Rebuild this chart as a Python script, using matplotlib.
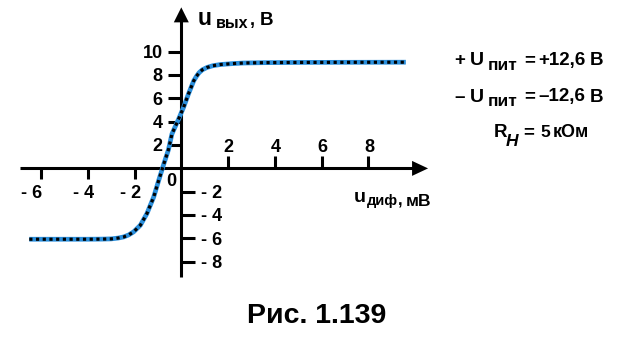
import matplotlib
matplotlib.use('Agg')
import matplotlib.pyplot as plt

# ---- data ----
u_dif = [-6.5, -5.0, -4.0, -3.4, -3.0, -2.7, -2.46, -2.25, -2.04, -1.75, -1.47,
         -1.18, -0.97, -0.75, -0.55, -0.4, -0.11, 0.1, 0.31, 0.53, 0.65, 0.76,
         0.9, 1.1, 1.35, 1.67, 2.2, 2.66, 3.5, 5.0, 7.0, 9.6]
u_out = [-6.07, -6.07, -6.07, -6.06, -6.04, -5.97, -5.87, -5.7, -5.44, -4.87, -3.87,
         -2.45, -1.05, 0.37, 1.6, 2.95, 4.25, 5.25, 6.4, 7.5, 7.9, 8.2,
         8.45, 8.65, 8.8, 8.9, 8.98, 9.03, 9.06, 9.08, 9.09, 9.1]
x_ticks = [-6, -4, -2, 2, 4, 6, 8]
x_tick_labels = ['- 6', '- 4', '- 2', '2', '4', '6', '8']
y_ticks = [-8, -6, -4, -2, 2, 4, 6, 8, 10]
y_tick_labels = ['- 8', '- 6', '- 4', '- 2', '2', '4', '6', '8', '10']

# ---- layout ----
W, H = 622, 337
X0, Y0 = 181.3, 168.4      # pixel position of origin
SX, SY = 23.39, 11.67      # pixels per unit
FONT = 'Liberation Sans'
BLUE = '#2a8fdc'
TICK_FS = 13
neg_x_label_shift = {-6: 0.5, -4: 4.3, -2: 4.8}   # points, right edge past tick

fig = plt.figure(figsize=(W / 100, H / 100), dpi=100)
ax = fig.add_axes([0, 0, 1, 1])
ax.set_xlim(-X0 / SX, (W - X0) / SX)
ax.set_ylim((Y0 - H) / SY, Y0 / SY)
ax.axis('off')


def P(px, py):
    return (px - X0) / SX, (Y0 - py) / SY


def T(px, py, s, size, ha='left', style='normal'):
    x, y = P(px, py)
    ax.text(x, y, s, fontsize=size, ha=ha, va='baseline', fontweight='bold',
            fontstyle=style, family=FONT, color='black')


# axes lines with arrows
x_min, x_max = -6.9, 10.55
y_min, y_max = -9.3, 13.8
alw = 2.2
ax.plot([x_min, x_max - 0.6], [0, 0], color='black', lw=alw, solid_capstyle='butt')
ax.plot([0, 0], [y_min, y_max - 1.2], color='black', lw=alw, solid_capstyle='butt')
ax.fill([x_max, x_max - 16 / SX, x_max - 16 / SX], [0, 7.5 / SY, -7.5 / SY],
        color='black', lw=0)
ax.fill([0, -7.5 / SX, 7.5 / SX], [y_max, y_max - 15 / SY, y_max - 15 / SY],
        color='black', lw=0)

# ticks
for t, lab in zip(x_ticks, x_tick_labels):
    if t > 0:
        ax.plot([t, t], [0, 12 / SY], color='black', lw=alw, solid_capstyle='butt')
        ax.annotate(lab, (t, 0), xytext=(0.5, 11.6), textcoords='offset points',
                    ha='center', va='baseline', fontsize=TICK_FS, fontweight='bold', family=FONT)
    else:
        ax.plot([t, t], [0, -11 / SY], color='black', lw=alw, solid_capstyle='butt')
        ax.annotate(lab, (t, 0), xytext=(neg_x_label_shift[t], -21.3), textcoords='offset points',
                    ha='right', va='baseline', fontsize=TICK_FS, fontweight='bold', family=FONT)
for t, lab in zip(y_ticks, y_tick_labels):
    if t > 0:
        ax.plot([0, -13 / SX], [t, t], color='black', lw=alw, solid_capstyle='butt')
        ax.annotate(lab, (0, t), xytext=(-13.3, -4.6), textcoords='offset points',
                    ha='right', va='baseline', fontsize=TICK_FS, fontweight='bold', family=FONT)
    else:
        ax.plot([0, 14 / SX], [t, t], color='black', lw=alw, solid_capstyle='butt')
        ax.annotate(lab, (0, t), xytext=(14.0, -4.6), textcoords='offset points',
                    ha='left', va='baseline', fontsize=TICK_FS, fontweight='bold', family=FONT)
ax.annotate('0', (0, 0), xytext=(-6.9, -12.8), textcoords='offset points',
            ha='center', va='baseline', fontsize=TICK_FS, fontweight='bold', family=FONT)

# curve
ax.plot(u_dif, u_out, color=BLUE, lw=3.4, solid_capstyle='butt', solid_joinstyle='round')
ax.plot(u_dif, u_out, color='black', lw=2.3, dashes=(1, 1.1), dash_capstyle='butt')

# axis labels
T(198, 25, 'u', 16.5)
T(215.5, 28.5, 'вых', 11.5)
T(250, 25, ',', 13)
T(259.5, 25, 'В', 13.5)

T(354, 201.5, 'u', 14)
T(367, 205.5, 'диф', 10.5)
T(398, 205.5, ',', 12)
T(406, 205.5, 'мВ', 12.5)

# annotations on the right
for base, sign, val in [(65, '+', '+12,6'), (101.5, '–', '–12,6')]:
    T(454, base, sign, 13.5)
    T(470, base, 'U', 14)
    T(488, base + 4.5, 'пит', 12.5)
    T(524.5, base, '=', 13.5)
    T(538.5, base, val, 13.5)
    T(590, base, 'В', 13.5)

T(494, 137, 'R', 13.5)
T(506, 145.5, 'H', 12.5, style='italic')
T(523.5, 137, '=', 13.5)
T(540.5, 137, '5', 12.5)
T(552.5, 137, 'кОм', 13)

# caption
T(247, 323, 'Рис. 1.139', 20.5)

fig.savefig('out.png', dpi=100)
